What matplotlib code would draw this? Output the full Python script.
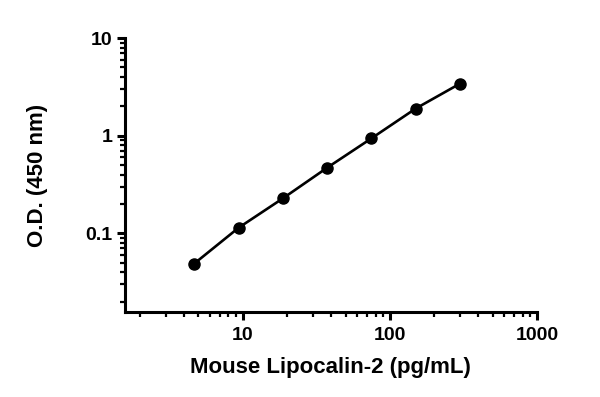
import matplotlib
matplotlib.use("Agg")
import matplotlib.pyplot as plt
from matplotlib.ticker import LogLocator, FixedLocator, FixedFormatter, NullFormatter

plt.rcParams['font.family'] = ['Liberation Sans', 'DejaVu Sans']
plt.rcParams['font.weight'] = 'bold'

# standard curve values
conc = [4.69, 9.38, 18.75, 37.5, 75, 150, 300]
od = [0.049, 0.114, 0.228, 0.47, 0.94, 1.9, 3.42]

xticks = [10, 100, 1000]
xticklabels = ["10", "100", "1000"]
yticks = [0.1, 1, 10]
yticklabels = ["0.1", "1", "10"]

fig = plt.figure(figsize=(6, 3.97), dpi=100)
ax = fig.add_axes([0.208, 0.214, 0.687, 0.69])

ax.plot(conc, od, color='black', lw=1.9, marker='o', ms=8)

ax.set_xscale('log')
ax.set_yscale('log')
ax.set_xlim(1.58, 1000)
ax.set_ylim(0.0156, 10)

ax.xaxis.set_major_locator(FixedLocator(xticks))
ax.xaxis.set_major_formatter(FixedFormatter(xticklabels))
ax.xaxis.set_minor_locator(LogLocator(base=10, subs=range(2, 10)))
ax.xaxis.set_minor_formatter(NullFormatter())
ax.yaxis.set_major_locator(FixedLocator(yticks))
ax.yaxis.set_major_formatter(FixedFormatter(yticklabels))
ax.yaxis.set_minor_locator(LogLocator(base=10, subs=range(2, 10)))
ax.yaxis.set_minor_formatter(NullFormatter())

for s in ['top', 'right']:
    ax.spines[s].set_visible(False)
for s in ['left', 'bottom']:
    ax.spines[s].set_linewidth(2.2)

ax.tick_params(which='major', length=6, width=2.2, labelsize=14, pad=3)
ax.tick_params(axis='x', which='major', pad=5)
ax.tick_params(which='minor', length=3.5, width=1.6)

ax.set_xlabel("Mouse Lipocalin-2 (pg/mL)", fontsize=16, fontweight='bold', labelpad=9)
ax.set_ylabel("O.D. (450 nm)", fontsize=16, fontweight='bold', labelpad=27)

fig.savefig("out.png", dpi=100)
